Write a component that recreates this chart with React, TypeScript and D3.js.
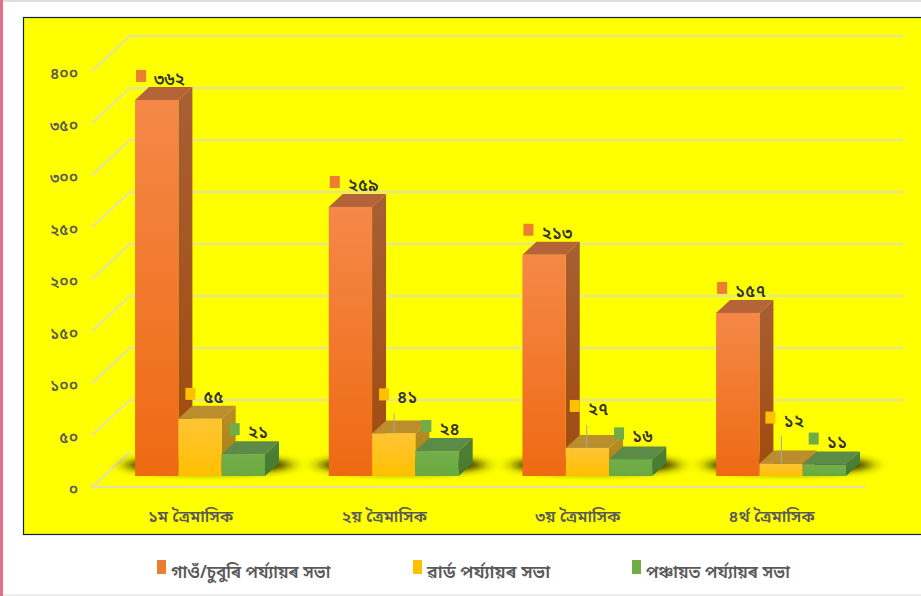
import React from "react";
import * as d3 from "d3";

const categories = ["১ম ত্ৰৈমাসিক", "২য় ত্ৰৈমাসিক", "৩য় ত্ৰৈমাসিক", "৪ৰ্থ ত্ৰৈমাসিক"];
const seriesNames = ["গাওঁ/চুবুৰি পৰ্য্যায়ৰ সভা", "ৱাৰ্ড পৰ্য্যায়ৰ সভা", "পঞ্চায়ত পৰ্য্যায়ৰ সভা"];
const gaon = [362, 259, 213, 157];
const ward = [55, 41, 27, 12];
const panchayat = [21, 24, 16, 11];
const tickValues = [0, 50, 100, 150, 200, 250, 300, 350, 400];

const bnDigits = "০১২৩৪৫৬৭৮৯";
const bn = (n: number) => String(n).replace(/\d/g, (d) => bnDigits[+d]);

const W = 921, H = 596;
const FONT = "'Noto Sans Bengali','Noto Sans','Lohit Assamese','DejaVu Sans',sans-serif";
const TEXT = "#595959";
const DARK = "#333333";
const GRID = "#E2E2A6";
const DX = 14, DY = -13;

const yBar = d3.scaleLinear().domain([0, 400]).range([476, 60.5]);
const yFront = d3.scaleLinear().domain([0, 400]).range([487, 71]);
const yBack = d3.scaleLinear().domain([0, 400]).range([452, 36]);
const xGroup = d3.scaleBand<number>().domain([0, 1, 2, 3]).range([103.2, 877.9]);

const palette = [
  { id: "o", front: ["#F58848", "#EE6A12"], side: ["#A85F35", "#A04A0C"], top: "#B5643A", key: "#ED7D31" },
  { id: "y", front: ["#FFC436", "#FFC000"], side: ["#B98E2A", "#A88010"], top: "#BA8E2C", key: "#FFC000" },
  { id: "g", front: ["#72AE4C", "#6AA93E"], side: ["#4E7F38", "#477A30"], top: "#5B8B47", key: "#70AD47" },
];

// Manually placed data labels in the reference: marker offset from the bar's front top-left corner.
const markerOffsets = [
  [[1, -30], [7, -31], [8, -31]],
  [[1, -31], [7, -45], [6, -31]],
  [[1, -31], [4, -48], [5, -32]],
  [[1, -31], [6, -52], [6, -32]],
];
const leaders: (number[] | null)[][] = [
  [null, null, null],
  [null, [22, -20], null],
  [null, [21, -23], null],
  [null, [22, -28], null],
];
const legendX = [157, 413, 632];
const legendSize = [17, 18, 17];

const poly = (pts: number[][]) => pts.map((p) => p.join(",")).join(" ");

export default function App() {
  const values = [gaon, ward, panchayat];
  const barW = 43.3;
  const groupLeft = (i: number) => xGroup(i)! + (xGroup.bandwidth() - barW * 3) / 2;

  return (
    <svg width={W} height={H} style={{ position: "absolute", left: 0, top: 0, background: "#fff" }} fontFamily={FONT}>
      <defs>
        {palette.map((p) => (
          <React.Fragment key={p.id}>
            <linearGradient id={p.id + "f"} x1="0" x2="0" y1="0" y2="1">
              <stop offset="0" stopColor={p.front[0]} />
              <stop offset="1" stopColor={p.front[1]} />
            </linearGradient>
            <linearGradient id={p.id + "s"} x1="0" x2="0" y1="0" y2="1">
              <stop offset="0" stopColor={p.side[0]} />
              <stop offset="1" stopColor={p.side[1]} />
            </linearGradient>
          </React.Fragment>
        ))}
        <filter id="blur" x="-30%" y="-150%" width="160%" height="400%">
          <feGaussianBlur stdDeviation="8 3.5" />
        </filter>
      </defs>

      <rect x={0} y={0} width={W} height={2} fill="#dedede" />
      <rect x={0} y={0} width={3} height={H} fill="#E2708A" />
      <rect x={3} y={594} width={W} height={2} fill="#eeeeee" />
      <rect x={23.5} y={17.5} width={W} height={517} fill="#FFFF00" stroke="#0b2545" strokeWidth={1.2} />

      {/* gridlines on back and left wall */}
      {tickValues.map((t) =>
        t > 0 ? (
          <polyline key={t} points={poly([[92, yFront(t)], [130, yBack(t)], [903, yBack(t)]])} fill="none" stroke={GRID} strokeWidth={2} />
        ) : null
      )}
      <polyline points={poly([[130, yBack(0)], [92, yFront(0)], [866, yFront(0)]])} fill="none" stroke={GRID} strokeWidth={2} />

      {/* axis labels */}
      {tickValues.map((t) => (
        <text key={t} x={78} y={yFront(t) + 8} textAnchor="end" fontSize={15.5} fontWeight={600} fill={TEXT}>
          {bn(t)}
        </text>
      ))}

      {/* floor shadows */}
      {categories.map((c, i) => (
        <ellipse key={c} cx={groupLeft(i) + 73} cy={465} rx={84} ry={8} fill="#222200" filter="url(#blur)" />
      ))}

      {/* bars */}
      {categories.map((c, i) =>
        values.map((vals, s) => {
          const p = palette[s];
          const x0 = groupLeft(i) + s * barW;
          const x1 = x0 + barW;
          const y0 = yBar(0);
          const y1 = yBar(vals[i]);
          return (
            <g key={c + s}>
              <polygon points={poly([[x1, y0], [x1 + DX, y0 + DY], [x1 + DX, y1 + DY], [x1, y1]])} fill={`url(#${p.id}s)`} />
              <polygon points={poly([[x0, y1], [x0 + DX, y1 + DY], [x1 + DX, y1 + DY], [x1, y1]])} fill={p.top} />
              <rect x={x0} y={y1} width={barW} height={y0 - y1} fill={`url(#${p.id}f)`} />
            </g>
          );
        })
      )}

      {/* data labels */}
      {categories.map((c, i) =>
        values.map((vals, s) => {
          const x0 = groupLeft(i) + s * barW;
          const y1 = yBar(vals[i]);
          const [mx, my] = markerOffsets[i][s];
          const leader = leaders[i][s];
          return (
            <g key={c + s}>
              {leader && (
                <line x1={x0 + leader[0]} x2={x0 + leader[0]} y1={y1} y2={y1 + leader[1]} stroke="#A6A6A6" strokeWidth={1} />
              )}
              <rect x={x0 + mx} y={y1 + my} width={10} height={12} fill={palette[s].key} />
              <text x={x0 + mx + 18} y={y1 + my + 15} fontSize={17} fontWeight={600} fill={DARK}>
                {bn(vals[i])}
              </text>
            </g>
          );
        })
      )}

      {/* category labels */}
      {categories.map((c, i) => (
        <text key={c} x={groupLeft(i) + barW * 1.5 - 9.5} y={522} textAnchor="middle" fontSize={16.5} fontWeight={600} fill={TEXT}>
          {c}
        </text>
      ))}

      {/* legend */}
      {seriesNames.map((n, s) => (
        <g key={n}>
          <rect x={legendX[s]} y={560} width={9} height={14} fill={palette[s].key} />
          <text x={legendX[s] + 14} y={578} fontSize={legendSize[s]} fontWeight={600} fill={TEXT}>
            {n}
          </text>
        </g>
      ))}
    </svg>
  );
}
